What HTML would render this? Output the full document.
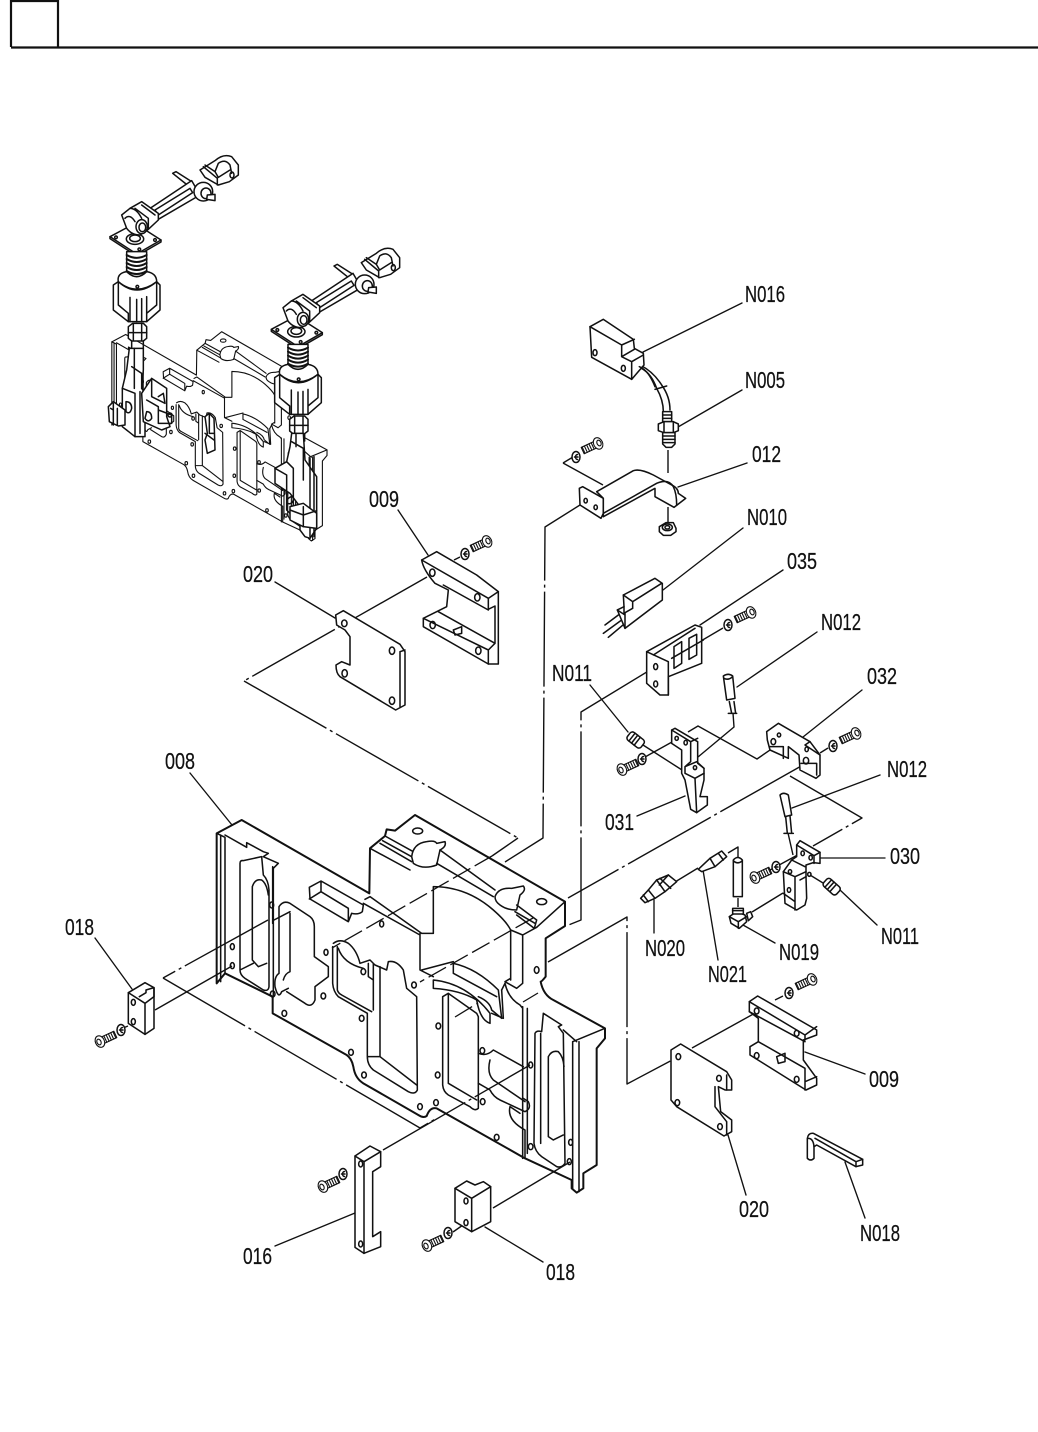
<!DOCTYPE html>
<html><head><meta charset="utf-8"><style>
html,body{margin:0;padding:0;background:#fff}
svg{display:block}
text{font-family:"Liberation Sans",sans-serif;font-size:23px;fill:#111;stroke:#111;stroke-width:.25}
.f{fill:#fff}
</style></head><body>
<svg width="1038" height="1432" viewBox="0 0 1038 1432" fill="none" stroke="#111" stroke-linejoin="round" stroke-linecap="round">
<defs>
<g id="body">
<path class="f" stroke-width="6" d="M50 100L125 60L508 280L510 145L555 108L560 88L585 92L645 45L1095 305L1095 378L1037 415L1037 530Q1025 545 1022 545Q1030 585 1060 600L1215 685L1215 715L1190 745L1190 1095L1150 1120L1150 1165L1130 1178L1115 1165L1115 1140L975 1075L710 925Q690 920 680 948Q670 955 655 945L490 850Q465 835 460 800Q455 775 440 765L218 640L218 590L75 520L50 550Z"/>
<path d="M50 100L75 112L75 520M62 105V545M75 105L140 142V128L190 155L205 160L190 170L235 190L220 205V590M218 200V370"/>
<path d="M120 190Q120 180 130 182L185 170M120 190V510Q120 525 135 535L190 570Q205 575 207 560V270Q205 240 190 225L185 170M157 260Q165 235 185 240Q200 250 205 285M157 260V480L175 500L200 490M120 510L160 490"/>
<path d="M237 320Q250 300 270 310L330 350Q343 360 343 380V470L385 500V530L345 560V600Q335 625 315 610L260 575M237 320V520Q222 530 225 560Q235 600 245 575L265 565M270 340V515Q255 520 250 540M222 360L270 335"/>
<path d="M328 262L363 243L490 315L487 335Q475 345 455 340L445 365L330 297ZM363 243V275L328 297M363 275L445 325V365"/>
<path d="M510 145L630 210M555 108L640 155M548 122L635 170M540 130L635 185"/>
<path class="f" d="M635 170Q640 130 680 125Q705 120 710 130L735 125Q740 140 720 150L710 195Q670 210 640 190Z"/>
<path class="f" d="M885 290Q895 262 935 265L970 258Q980 270 960 285L950 330Q920 330 900 315Q885 305 885 290Z"/>
<path d="M710 190L880 290M720 150L885 270M950 315L1010 360L1003 385L950 345M1010 382L1095 305M1005 370L945 335"/>
<ellipse cx="653" cy="93" rx="15" ry="9"/><ellipse cx="1025" cy="305" rx="15" ry="9"/>
<path d="M495 298L510 290L665 400H700V260Q800 260 880 330Q920 365 932 390V540M660 400V510L700 530M968 405V550L950 565L915 545L932 535M490 310L660 405M932 390L968 405L1010 382"/>
<path class="f" d="M700 540Q800 550 870 640V670Q840 660 830 600Q780 570 700 565Z"/>
<path d="M665 510L760 485M760 490Q830 505 895 570L905 655L875 630Q870 605 835 590M760 490V520L890 590M905 570L910 655L875 640"/>
<path d="M400 430Q420 415 445 430Q470 450 480 490L510 480L525 495L560 510L565 485Q590 480 610 510L620 565L650 590L652 870Q645 885 625 875L520 810Q502 795 502 770V640L415 590Q400 575 398 550V440M520 490V630M415 445Q430 490 490 505M412 440V570Q415 580 425 585L515 635M540 500V770L650 855M502 770H540M505 490V530L520 540"/>
<path d="M728 590L745 580L830 640L835 650V925Q825 935 810 920L745 885Q730 875 728 855ZM745 585V850L830 900"/>
<path d="M835 760Q860 770 880 750L970 800M835 850L870 870Q880 890 900 900L975 935Q995 925 985 905L970 895M870 780Q860 820 880 840L975 905M930 920Q920 960 975 990V1075M930 920L960 940"/>
<path d="M968 620V1075M982 625V1060M1005 700Q1010 690 1025 695L1030 640L1085 675L1075 680L1090 700L1095 1090Q1085 1105 1070 1100L1025 1070Q1005 1055 1002 1030ZM1045 770Q1055 750 1075 755Q1090 770 1092 800M1045 770V1010L1060 1020L1090 1005M1118 725V1165M1137 725V1175M1118 725L1215 685M1090 690L1130 725M1022 700V1030M915 550Q925 595 960 615L968 625M905 570L915 550"/>
<g>
<ellipse cx="97" cy="440" rx="6" ry="9"/><ellipse cx="97" cy="497" rx="6" ry="9"/><ellipse cx="378" cy="457" rx="6" ry="9"/><ellipse cx="545" cy="372" rx="6" ry="9"/><ellipse cx="215" cy="315" rx="6" ry="9"/><ellipse cx="370" cy="588" rx="7" ry="9"/><ellipse cx="253" cy="640" rx="7" ry="9"/><ellipse cx="485" cy="655" rx="7" ry="9"/><ellipse cx="453" cy="757" rx="7" ry="9"/><ellipse cx="492" cy="825" rx="7" ry="9"/><ellipse cx="490" cy="515" rx="7" ry="9"/><ellipse cx="642" cy="555" rx="7" ry="9"/><ellipse cx="715" cy="678" rx="7" ry="9"/><ellipse cx="713" cy="825" rx="7" ry="9"/><ellipse cx="660" cy="920" rx="7" ry="9"/><ellipse cx="708" cy="908" rx="7" ry="9"/><ellipse cx="847" cy="752" rx="7" ry="9"/><ellipse cx="848" cy="905" rx="7" ry="9"/><ellipse cx="890" cy="1012" rx="7" ry="9"/><ellipse cx="992" cy="1040" rx="7" ry="9"/><ellipse cx="1112" cy="1027" rx="6" ry="9"/><ellipse cx="1108" cy="1085" rx="6" ry="9"/><ellipse cx="992" cy="795" rx="6" ry="9"/><ellipse cx="1010" cy="510" rx="7" ry="10"/><ellipse cx="218" cy="582" rx="7" ry="9"/>
</g>
</g>
<g id="screw" stroke-width="1.1">
<path class="f" d="M4 -3.5H18V3.5H4Z"/>
<path d="M7 -3.5V3.5M9.5 -3.5V3.5M12 -3.5V3.5M14.5 -3.5V3.5M17 -3.5V3.5"/>
<ellipse class="f" cx="1" cy="0" rx="4.5" ry="6"/><ellipse cx="0" cy="0" rx="2" ry="3"/>
</g>
<g id="washer" stroke-width="1.5">
<ellipse class="f" rx="4" ry="5.5"/><path d="M1.5 -2.5A2 2.5 0 1 0 1.5 2.5M-1.5 0H2"/>
</g>
<g id="arm" stroke-width="4.5">
<path class="f" d="M60 290L135 250L213 300L140 342Z"/>
<path d="M60 290V296L140 348L213 306V300"/>
<ellipse cx="78" cy="292" rx="4" ry="4"/><ellipse cx="195" cy="300" rx="4" ry="4"/><ellipse cx="148" cy="328" rx="4" ry="4"/>
<ellipse cx="135" cy="297" rx="26" ry="16"/><ellipse cx="135" cy="295" rx="16" ry="10"/>
<path class="f" d="M248 100L258 95L305 125L292 135Z"/>
<path class="f" d="M180 205L305 122L330 165L205 238Z"/>
<path d="M195 210L300 145L308 158L205 225Z"/>
<path class="f" d="M330 90L375 62Q400 40 425 50L445 75V105L418 125L385 135L345 112Z"/>
<path d="M340 80L382 115V135M345 75L375 95L385 70Q405 55 420 75L425 100M375 95L385 112L420 90"/>
<ellipse cx="426" cy="105" rx="6" ry="9"/>
<circle class="f" cx="340" cy="155" r="28"/>
<ellipse class="f" cx="348" cy="160" rx="15" ry="16"/>
<path class="f" d="M352 165L375 163V182L350 178Z"/>
<path class="f" d="M95 225L120 205L155 185L205 220V240L175 268L150 285Q125 285 110 265Z"/>
<path d="M135 205L175 235V265M120 205Q140 205 155 235M155 195L195 225M105 235Q120 220 135 245"/>
<ellipse class="f" cx="155" cy="260" rx="17" ry="21"/><ellipse cx="157" cy="262" rx="10" ry="13"/>
</g>
<g id="column" stroke-width="4.5">
<path class="f" d="M110 335H170V410H110Z"/>
<path stroke-width="6" d="M110 345Q140 362 170 345M110 357Q140 375 170 357M110 369Q140 387 170 369M110 381Q140 399 170 381M110 393Q140 411 170 393"/>
<path class="f" d="M85 425Q80 400 110 395Q140 425 170 395Q200 400 200 425Q140 470 85 425Z"/>
<path class="f" d="M70 435L85 425Q140 475 200 425L210 435V510L170 545H115L70 510Z"/>
<path d="M85 428V495L115 520V545M120 472V545M140 478V545M155 476V545M170 470V545M200 428V495L170 520"/>
<ellipse cx="142" cy="440" rx="4" ry="4"/>
<path class="f" d="M115 560L128 550H160L170 560V595L160 603H125L115 595Z"/>
<path d="M115 578H170M130 552V600M155 552V600M125 603V625M160 603V625"/>
</g>
</defs>

<!-- header -->
<path d="M11 1H58M11 0V47M58 0V47M11 47.5H1038" stroke-width="2.2" stroke-linecap="butt"/>

<!-- mini assembly -->
<g transform="translate(102.6 323.4) scale(.1847)" stroke-width="6"><use href="#body"/></g>
<g transform="translate(90 140) scale(.33333)" stroke-width="4.5">
<use href="#arm"/><use href="#column"/>
<g transform="translate(484 278)"><use href="#arm"/><use href="#column"/></g>
<path class="f" d="M118 625H160V690L155 745L165 760V890H135L97 860V745L110 690Z"/>
<path d="M133 625V745M125 680L155 700V745M97 745L135 760V890M150 755V880M108 785Q125 785 125 805Q120 825 108 815Z"/>
<path class="f" d="M55 800L70 785L105 810V855L85 858L58 845Z"/>
<path d="M70 790V855M62 805L70 810M82 805V855"/>
<path class="f" d="M155 760L185 715L230 745V830L240 860L215 870L160 845Z"/>
<path d="M185 720V770L225 790M170 780L205 800V850M205 810L245 825V850L205 850M170 815Q185 815 185 835Q175 850 165 835ZM205 770L220 760L225 790"/>
<ellipse cx="240" cy="825" rx="6" ry="6"/>
<path class="f" d="M605 880H640L645 960L680 1010V1165L660 1195L645 1190L630 1170V1100L600 1060L555 1030V985L590 965L600 920Z"/>
<path d="M618 880V920M605 905L640 925V965M590 965L610 985V1100M555 985L590 1005V1110L600 1120M660 955V1190M672 950V1190M590 1080Q610 1060 610 1080Q605 1095 592 1090M640 960V1020"/>
<path class="f" d="M600 1100L640 1090L680 1120V1165L640 1160L600 1140Z"/>
<path d="M640 1100V1160M600 1110L640 1125L680 1112"/>
<path class="f" d="M345 830L358 820L372 835L375 930L352 940L345 900L352 880Z"/>
<path d="M358 820V880H372M345 880L372 900"/>
</g>

<!-- main body -->
<g transform="translate(200 800) scale(.33333)" stroke-width="4.6"><use href="#body"/></g>

<!-- connector lines -->
<g stroke-width="1.4" stroke-dasharray="95 4 3 4" stroke-linecap="butt">
<path d="M427 577L244 681"/>
<path d="M244 681L518 838"/>
<path d="M268 920L163 978"/>
<path d="M163 978L420 1128L437 1118"/>
<path d="M155 1010L232 966"/>
<path d="M580 505L545 527L543 838L505 862"/>
<path d="M655 667L581 712L581 920L566 926"/>
<path d="M803 765L568 898"/>
<path d="M548 962L627 917V1084L678 1057"/>
<path d="M692 1048L757 1012"/>
<path d="M383 1150L530 1065"/>
<path d="M493 1208L570 1162"/>
<path d="M563 463L603 485M563 463L573 457"/>
<path d="M668 450V473M668 507V522"/>
<path d="M672 658L723 628"/>
<path d="M688 732L698 726L757 759L770 750"/>
<path d="M733 713L734 727L698 757"/>
<path d="M643 745L682 770M645 757L672 742"/>
<path d="M820 753L828 748"/>
<path d="M790 776L862 818L813 846"/>
<path d="M788 833L793 855M770 870L803 852"/>
<path d="M675 882L698 868M728 853L738 847V857M738 898V907"/>
<path d="M752 912L783 893M810 875L823 883M775 1000L783 996M454 560L460 557M123 1028L128 1026M453 1232L463 1225"/>
<path d="M518 838L492 856"/>
</g>
<g stroke-width="1.3" stroke-dasharray="20 5" stroke-linecap="butt">
<path d="M492 856L332 948"/>
<path d="M533 918L420 982"/>
<path d="M455 1017L478 1003M523 1002L538 993"/>
</g>

<!-- leaders -->
<g stroke-width="1.35">
<path d="M643 352L742 303M678 427L742 390M678 487L747 463M663 590L743 528M700 625L783 570M737 687L817 632M803 737L862 690M590 685L628 732M792 808L880 775M820 858H885M637 816L685 796M840 890L877 925M743 925L775 943M654 900V933M703 870L718 960M398 510L428 555M275 582L335 618M190 773L232 825M95 938L132 989M805 1052L865 1074M728 1135L746 1195M845 1162L865 1218M355 1213L275 1246M485 1227L543 1262"/>
</g>

<!-- 018 left -->
<g transform="translate(60 900) scale(.33333)" stroke-width="4.6">
<path class="f" d="M205 278L255 248L282 263V385L255 403L205 370Z"/>
<path d="M205 278L255 310V403M255 310L282 290V263M238 290L258 278V270L282 263"/>
<ellipse cx="220" cy="307" rx="6" ry="9"/><ellipse cx="220" cy="365" rx="6" ry="9"/>
</g>
<!-- 016 / 018 bottom -->
<g transform="translate(300 1130) scale(.33333)" stroke-width="4.6">
<path class="f" d="M165 78L210 48L242 65V110L218 125V320L242 305V350L192 370L165 352Z"/>
<path d="M165 78L192 95V370M192 95L242 65"/>
<ellipse cx="182" cy="102" rx="6" ry="9"/><ellipse cx="182" cy="342" rx="6" ry="9"/>
<path class="f" d="M465 175L500 153L525 165L550 155L572 170V275L515 305L465 275Z"/>
<path d="M465 175L515 205V305M515 205L572 170"/>
<ellipse cx="498" cy="213" rx="6" ry="9"/><ellipse cx="498" cy="278" rx="6" ry="9"/>
</g>
<!-- 009 + 020 upper -->
<g transform="translate(230 480) scale(.33333)" stroke-width="4.6">
<path class="f" d="M575 240L620 215L740 285L805 335V552H775L580 440V415L650 380L655 330L615 310Q580 270 575 240Z"/>
<path d="M575 240L775 355V390L640 315M775 355L805 335M775 388L795 378V490L775 510M775 510V552M580 415L775 510M625 395L795 490M670 450L695 440V460L675 465Z"/>
<ellipse cx="607" cy="278" rx="8" ry="11"/><ellipse cx="742" cy="352" rx="8" ry="11"/><ellipse cx="608" cy="435" rx="8" ry="11"/><ellipse cx="745" cy="512" rx="8" ry="11"/>
<path class="f" d="M317 405L340 392L510 493L525 515V675L497 690L330 590Q318 580 318 555L335 545L360 555V470L345 450L320 435Z"/>
<path d="M510 515V680M510 515L525 510"/>
<ellipse cx="343" cy="430" rx="8" ry="10"/><ellipse cx="486" cy="512" rx="8" ry="11"/><ellipse cx="344" cy="580" rx="8" ry="11"/><ellipse cx="486" cy="662" rx="8" ry="11"/>
</g>
<!-- lower right parts -->
<g transform="translate(530 890) scale(.33333)" stroke-width="4.6">
<path class="f" d="M658 335L683 318L860 420V435L820 450V510L860 565V585L828 600L660 495V470L685 455V385L658 365Z"/>
<path d="M658 335L825 435V450M658 365L825 455M685 455L825 535V575M825 435L860 410M825 575V600M825 575L860 560M740 500L765 490V515L745 520Z"/>
<ellipse cx="680" cy="363" rx="7" ry="9"/><ellipse cx="800" cy="430" rx="7" ry="9"/><ellipse cx="680" cy="497" rx="7" ry="9"/><ellipse cx="800" cy="568" rx="7" ry="9"/>
<path class="f" d="M423 480L452 462L590 545L605 570V600H585L565 590L572 665L605 690V725L582 738L440 650L423 630Z"/>
<path d="M555 590V650L590 695V735M590 555V600"/>
<ellipse cx="445" cy="500" rx="7" ry="9"/><ellipse cx="567" cy="565" rx="7" ry="9"/><ellipse cx="442" cy="638" rx="7" ry="9"/><ellipse cx="570" cy="710" rx="7" ry="9"/>
<path class="f" d="M832 745Q835 728 850 730L998 808V825L978 830L860 765L852 770V805Q842 815 832 805Z"/>
<path d="M978 815L998 808M978 815V830M852 770Q850 745 835 745M855 745L978 815"/>
</g>
<!-- upper right parts -->
<g transform="translate(540 300) scale(.33333)" stroke-width="4.6">
<path d="M290 200Q330 210 350 265Q370 300 370 335M300 195Q340 215 365 255Q390 290 390 330M345 268L380 258"/>
<path class="f" d="M150 80L190 58L280 118L283 145L310 160L312 195L275 238L155 172Z"/>
<path d="M150 80L245 135V170L275 185V238M245 135L283 118M245 170L283 148M275 185L310 165"/>
<ellipse cx="165" cy="158" rx="6" ry="9"/><ellipse cx="250" cy="205" rx="6" ry="9"/>
<path d="M298 200Q325 210 345 260"/>
<path class="f" d="M368 335H395V365H368Z"/><path d="M368 345H395M368 355H395"/>
<path class="f" d="M355 372L372 365H400L415 372V392L400 398H372L355 392Z"/>
<path d="M372 365V398M400 365V398"/>
<path class="f" d="M368 398H405V432L395 442H378L368 432Z"/><path d="M368 408H405M368 418H405M368 428H405"/>
<path class="f" d="M118 565L128 560L190 595V640L183 655L120 615Z"/>
<path class="f" d="M170 575L280 512Q300 505 340 525L395 555Q415 565 415 580L437 595L402 622L345 590V565L190 650V595Z"/>
<path d="M190 640L350 550Q385 535 400 560Q410 580 410 615"/>
<ellipse cx="137" cy="602" rx="5" ry="7"/><ellipse cx="167" cy="622" rx="5" ry="7"/>
<path class="f" d="M358 680L378 668H400L408 685V695L392 706H370L358 695Z"/>
<ellipse cx="382" cy="682" rx="15" ry="10"/><ellipse cx="382" cy="682" rx="7" ry="5"/>
<path d="M235 945L195 975M245 960L190 1000M255 970L205 1012"/>
<path class="f" d="M250 885L345 835L367 850V900L255 985L232 930L252 920Z"/>
<path d="M250 885L278 905V925M278 905L365 850M252 920V940M278 925L255 938V985M232 930L255 945"/>
<path class="f" d="M320 1055L465 975L485 982V1090L385 1130V1185H360L320 1150Z"/>
<path d="M320 1055L385 1085V1185M340 1065L465 985M402 1040L425 1025V1090L402 1105ZM447 1015L470 1003V1065L447 1078ZM395 1075L490 1020"/>
<ellipse cx="347" cy="1100" rx="6" ry="9"/><ellipse cx="347" cy="1152" rx="6" ry="9"/>
<path class="f" d="M550 1128Q565 1118 578 1128L585 1195L560 1200Z"/>
<path d="M552 1135Q565 1142 578 1130"/>
</g>
<!-- mid right parts -->
<g transform="translate(600 690) scale(.33333)" stroke-width="4.6">
<g transform="translate(107 150) rotate(38)"><rect class="f" x="-26" y="-15" width="52" height="30" rx="9"/><path d="M-14 -15V15M-4 -15V15M6 -15V15"/></g>
<path d="M388 35L395 70M402 35L407 70M385 70H410"/>
<path class="f" d="M215 120L225 115L293 155V220L312 235V270L300 320H322V345L290 368L272 358L255 270L245 250V180L215 160Z"/>
<path d="M215 120L272 155V215L255 230V250L285 265L290 368M272 155L293 145M255 230L290 215L312 235M285 265L312 250"/>
<ellipse cx="230" cy="145" rx="5" ry="6"/><ellipse cx="257" cy="158" rx="5" ry="7"/><ellipse cx="285" cy="233" rx="5" ry="6"/>
<path class="f" d="M500 125L535 100L630 155L660 195V255L648 265L600 240L597 195L565 170V205L510 180L502 150Z"/>
<path d="M630 155L615 165L660 195M510 170H550V205M603 220H650V255"/>
<ellipse cx="520" cy="155" rx="7" ry="9"/><ellipse cx="537" cy="135" rx="5" ry="6"/><ellipse cx="620" cy="178" rx="5" ry="7"/><ellipse cx="618" cy="212" rx="8" ry="10"/>
<path class="f" d="M540 315Q550 305 565 315L575 375L555 380Z"/>
<path d="M557 380L562 430M570 378L575 430M552 430H580"/>
<path class="f" d="M590 465L600 452L660 487V520L640 518L618 525V560L620 625L615 645L590 660L555 640L550 545L575 510L590 500Z"/>
<path d="M590 465L642 497V520M642 497L660 487M550 545L585 560V660M575 510L615 530M585 560L618 545M600 570L618 560M550 610L585 635"/>
<ellipse cx="608" cy="490" rx="5" ry="7"/><ellipse cx="632" cy="503" rx="5" ry="7"/><ellipse cx="628" cy="553" rx="5" ry="6"/><ellipse cx="567" cy="600" rx="5" ry="7"/><ellipse cx="570" cy="545" rx="5" ry="6"/>
<g transform="translate(695 590) rotate(42)"><rect class="f" x="-26" y="-15" width="52" height="30" rx="9"/><path d="M-14 -15V15M-4 -15V15M6 -15V15"/></g>
<path class="f" d="M388 680L410 665L435 675L440 695L418 715L393 700Z"/>
<path d="M388 680L415 695V715M415 695L440 680"/>
<path class="f" d="M398 655H430V672H398Z"/><path d="M398 662H430"/>
<path class="f" d="M440 670L452 665L458 680L445 692Z"/>
<path class="f" d="M122 625L145 600L170 570L205 555L230 575L195 605L165 625L135 638Z"/>
<path d="M170 570L195 605M145 600L165 625M130 615L145 635M180 565L212 595M205 555L178 585"/>
<path class="f" d="M295 538L330 505L365 483L380 500L345 530L305 545Z"/>
<path d="M330 505L345 530M355 490L370 510"/>
<path class="f" d="M400 510Q413 495 427 510V620H400Z"/><path d="M400 512Q413 525 427 512"/>
</g>

<!-- fasteners -->
<use href="#screw" transform="translate(99 1042) rotate(-25)"/>
<use href="#screw" transform="translate(322 1187) rotate(-25)"/>
<use href="#screw" transform="translate(426 1246) rotate(-25)"/>
<use href="#screw" transform="translate(488 541) rotate(155)"/>
<use href="#screw" transform="translate(599 443) rotate(155)"/>
<use href="#screw" transform="translate(752 612) rotate(155)"/>
<use href="#screw" transform="translate(857 733) rotate(155)"/>
<use href="#screw" transform="translate(621 770) rotate(-25)"/>
<use href="#screw" transform="translate(754 878) rotate(-25)"/>
<use href="#screw" transform="translate(813 979) rotate(155)"/>
<use href="#washer" x="121" y="1030"/>
<use href="#washer" x="343" y="1174"/>
<use href="#washer" x="448" y="1233"/>
<use href="#washer" x="465" y="554"/>
<use href="#washer" x="576" y="457"/>
<use href="#washer" x="728" y="625"/>
<use href="#washer" x="833" y="746"/>
<use href="#washer" x="642" y="759"/>
<use href="#washer" x="776" y="867"/>
<use href="#washer" x="789" y="993"/>

<!-- labels -->
<g>
<text x="745" y="302" textLength="40" lengthAdjust="spacingAndGlyphs">N016</text>
<text x="745" y="388" textLength="40" lengthAdjust="spacingAndGlyphs">N005</text>
<text x="752" y="462" textLength="29" lengthAdjust="spacingAndGlyphs">012</text>
<text x="747" y="525" textLength="40" lengthAdjust="spacingAndGlyphs">N010</text>
<text x="787" y="569" textLength="30" lengthAdjust="spacingAndGlyphs">035</text>
<text x="821" y="630" textLength="40" lengthAdjust="spacingAndGlyphs">N012</text>
<text x="867" y="684" textLength="30" lengthAdjust="spacingAndGlyphs">032</text>
<text x="552" y="681" textLength="40" lengthAdjust="spacingAndGlyphs">N011</text>
<text x="887" y="777" textLength="40" lengthAdjust="spacingAndGlyphs">N012</text>
<text x="890" y="864" textLength="30" lengthAdjust="spacingAndGlyphs">030</text>
<text x="605" y="830" textLength="29" lengthAdjust="spacingAndGlyphs">031</text>
<text x="881" y="944" textLength="38" lengthAdjust="spacingAndGlyphs">N011</text>
<text x="779" y="960" textLength="40" lengthAdjust="spacingAndGlyphs">N019</text>
<text x="645" y="956" textLength="40" lengthAdjust="spacingAndGlyphs">N020</text>
<text x="708" y="982" textLength="39" lengthAdjust="spacingAndGlyphs">N021</text>
<text x="369" y="507" textLength="30" lengthAdjust="spacingAndGlyphs">009</text>
<text x="243" y="582" textLength="30" lengthAdjust="spacingAndGlyphs">020</text>
<text x="165" y="769" textLength="30" lengthAdjust="spacingAndGlyphs">008</text>
<text x="65" y="935" textLength="29" lengthAdjust="spacingAndGlyphs">018</text>
<text x="869" y="1087" textLength="30" lengthAdjust="spacingAndGlyphs">009</text>
<text x="739" y="1217" textLength="30" lengthAdjust="spacingAndGlyphs">020</text>
<text x="860" y="1241" textLength="40" lengthAdjust="spacingAndGlyphs">N018</text>
<text x="243" y="1264" textLength="29" lengthAdjust="spacingAndGlyphs">016</text>
<text x="546" y="1280" textLength="29" lengthAdjust="spacingAndGlyphs">018</text>
</g>
</svg>
</body></html>
